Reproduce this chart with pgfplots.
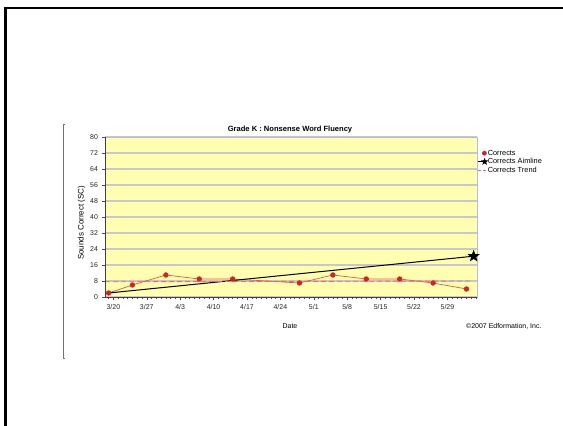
\documentclass[border=0pt]{standalone}
\usepackage{fontspec}
\setmainfont{Liberation Sans}
\usepackage{pgfplots}
\usepackage{pgfplotstable}
\pgfplotsset{compat=1.18}
\usetikzlibrary{plotmarks}

\definecolor{cYellow}{RGB}{255,255,175}
\definecolor{cGrid}{RGB}{198,198,215}
\definecolor{cRed}{RGB}{210,35,35}
\definecolor{cLine}{RGB}{228,85,75}
\definecolor{cTrend}{RGB}{240,105,95}
\definecolor{cBox}{RGB}{185,185,230}

% filled five-pointed star
\pgfdeclareplotmark{fstar}{%
  \pgfpathmoveto{\pgfpointpolar{90}{\pgfplotmarksize}}%
  \pgfpathlineto{\pgfpointpolar{126}{0.42*\pgfplotmarksize}}%
  \pgfpathlineto{\pgfpointpolar{162}{\pgfplotmarksize}}%
  \pgfpathlineto{\pgfpointpolar{198}{0.42*\pgfplotmarksize}}%
  \pgfpathlineto{\pgfpointpolar{234}{\pgfplotmarksize}}%
  \pgfpathlineto{\pgfpointpolar{270}{0.42*\pgfplotmarksize}}%
  \pgfpathlineto{\pgfpointpolar{306}{\pgfplotmarksize}}%
  \pgfpathlineto{\pgfpointpolar{342}{0.42*\pgfplotmarksize}}%
  \pgfpathlineto{\pgfpointpolar{18}{\pgfplotmarksize}}%
  \pgfpathlineto{\pgfpointpolar{54}{0.42*\pgfplotmarksize}}%
  \pgfpathclose\pgfusepathqfillstroke}

% day 0 = 3/20
\pgfplotstableread{
day val
-1 2
4 6
11 11
18 9
25 9
39 7
46 11
53 9
60 9
67 7
74 4
}\corrects

\pgfplotstableread{
day val
-1 2
75.5 20.4
}\aimline

\pgfplotstableread{
day val
-1.75 7.6
75.1 8.0
}\trend

\begin{document}
\begin{tikzpicture}
\path[use as bounding box] (0,0) rectangle (563bp,426bp);
\fill[white] (0,0) rectangle (563bp,426bp);
\draw[line width=2.5bp] (5.5bp,0) -- (5.5bp,418bp) -- (563bp,418bp);
\draw[black!55, line width=0.8bp] (65bp,302bp) -- (63bp,302bp) -- (63bp,68bp) -- (65bp,68bp);

\begin{axis}[
  at={(105bp,129bp)}, anchor=south west,
  scale only axis, width=372bp, height=160bp,
  xmin=-1.75, xmax=76.2, ymin=0, ymax=80,
  axis background/.style={fill=cYellow},
  axis line style={cBox, line width=0.8bp},
  xtick={0,7,...,70},
  xticklabels={3/20,3/27,4/3,4/10,4/17,4/24,5/1,5/8,5/15,5/22,5/29},
  minor xtick={-1,0,...,76},
  ytick={0,8,...,80},
  ymajorgrids, grid style={cGrid, line width=1.1bp},
  tick align=outside, xtick pos=bottom, ytick pos=left,
  major tick length=3.5bp, minor tick length=2.5bp,
  tick style={black!70, line width=0.5bp},
  every tick label/.append style={font=\fontsize{7}{8}\selectfont, text=black!85},
  /pgf/number format/assume math mode=true,
  clip=false,
  legend style={at={(1.0,0.925)}, anchor=north west, draw=none, fill=none,
    font=\fontsize{7.4}{8}\selectfont, inner sep=0pt, row sep=0.3bp,
    nodes={inner sep=0.7bp}},
  legend cell align=left,
]
\addplot[cLine, line width=0.7bp, mark=*, mark size=2.3bp,
  mark options={fill=cRed, draw=cRed},
  legend image code/.code={\node[circle, fill=cRed, inner sep=0pt, minimum size=4.8bp] at (4bp,0) {};}]
  table[x=day, y=val] {\corrects};
\addlegendentry{Corrects}
\addplot[black, line width=1bp, mark=fstar, mark size=5bp, mark indices={2},
  legend image code/.code={\draw[black, line width=0.9bp, mark=fstar, mark size=2.6bp, mark repeat=2, mark phase=2] plot coordinates {(0bp,0bp) (7bp,0bp) (9bp,0bp)};}]
  table[x=day, y=val] {\aimline};
\addlegendentry{Corrects Aimline}
\addplot[cTrend, line width=0.9bp, dash pattern=on 5bp off 3bp,
  legend image code/.code={\draw[cTrend, line width=0.9bp, dash pattern=on 3bp off 2bp] (0bp,0bp) -- (8bp,0bp);}]
  table[x=day, y=val] {\trend};
\addlegendentry{Corrects Trend}
\draw[black!75, line width=0.8bp] (rel axis cs:0,1) -- (rel axis cs:0,0) -- (rel axis cs:1,0);
\end{axis}

\node[font=\bfseries\fontsize{7.6}{8}\selectfont] at (290bp,296bp) {Grade K : Nonsense Word Fluency};
\node[rotate=90, font=\fontsize{8}{9}\selectfont] at (81.5bp,203bp) {Sounds Correct (SC)};
\node[font=\fontsize{7}{8}\selectfont] at (290bp,100bp) {Date};
\node[font=\fontsize{7}{8}\selectfont, anchor=east] at (545bp,100bp) {\textcopyright2007 Edformation, Inc.};
\end{tikzpicture}
\end{document}
